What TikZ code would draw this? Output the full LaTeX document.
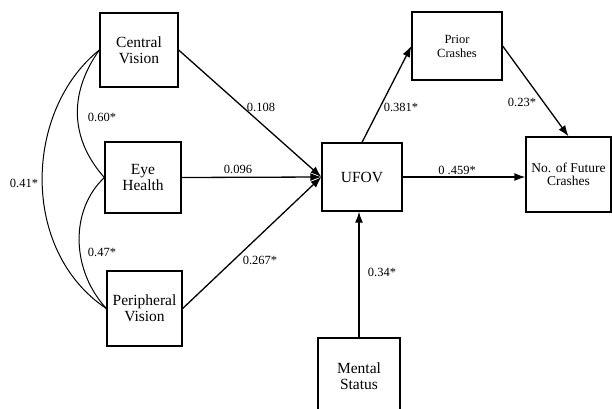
\documentclass[tikz,border=0pt]{standalone}
\usepackage{fontspec}
\setmainfont{Liberation Serif}
\usetikzlibrary{arrows.meta}
\begin{document}
\begin{tikzpicture}[x=1pt,y=-1pt,
  box/.style={draw,line width=1.3pt,align=center,inner sep=0pt,font=\fontsize{15.5}{16}\selectfont},
  sbox/.style={box,font=\fontsize{12.5}{14}\selectfont},
  fbox/.style={box,font=\fontsize{13.5}{13}\selectfont},
  path/.style={line width=1.3pt,-{Latex[length=11pt,width=8pt]}},
  corr/.style={line width=1pt},
  coef/.style={font=\fontsize{12.5}{14}\selectfont,inner sep=1pt}]
\useasboundingbox (0,0) rectangle (612,408);
\node[box,minimum width=78pt,minimum height=74pt] (cv) at (139,50) {Central\\Vision};
\node[box,minimum width=76pt,minimum height=71pt] (eh) at (143,177.5) {Eye\\Health};
\node[box,minimum width=75pt,minimum height=75pt] (pv) at (144.5,308.5) {Peripheral\\Vision};
\node[box,minimum width=80pt,minimum height=68pt] (uf) at (362,177) {UFOV};
\node[sbox,minimum width=90pt,minimum height=68pt] (pc) at (457,46) {Prior\\Crashes};
\node[fbox,minimum width=85pt,minimum height=75pt] (fc) at (568.5,174.5) {No. of Future\\Crashes};
\node[box,minimum width=82pt,minimum height=76pt] (ms) at (359,376) {Mental\\Status};

\draw[path] (cv.east) -- (uf.west);
\draw[path] (eh.east) -- (uf.west);
\draw[path] (pv.east) -- (uf.west);
\draw[path] (uf.north) -- (pc.west);
\draw[path] (pc.east) -- (fc.north);
\draw[path] (uf.east) -- (uf.east -| fc.west);
\draw[path] (ms.north) -- (ms.north |- uf.south);

\draw[corr] (cv.west) .. controls +(-32,45) and +(-33,-37) .. (eh.west);
\draw[corr] (eh.west) .. controls +(-35,33) and +(-35,-38) .. (pv.west);
\draw[corr] (cv.west) .. controls +(-75,60) and +(-87,-58) .. (pv.west);

\node[coef] (c1) at (102,117) {0.60*};
\node[coef] (c2) at (102,252) {0.47*};
\node[coef] (c3) at (24,183) {0.41*};
\node[coef] (c4) at (261,107) {0.108};
\node[coef] (c5) at (238,169) {0.096};
\node[coef] (c6) at (260,260) {0.267*};
\node[coef] (c7) at (401,107) {0.381*};
\node[coef] (c8) at (522,102) {0.23*};
\node[coef] (c9) at (457,170) {0 .459*};
\node[coef] (c10) at (382,272) {0.34*};
\end{tikzpicture}
\end{document}
